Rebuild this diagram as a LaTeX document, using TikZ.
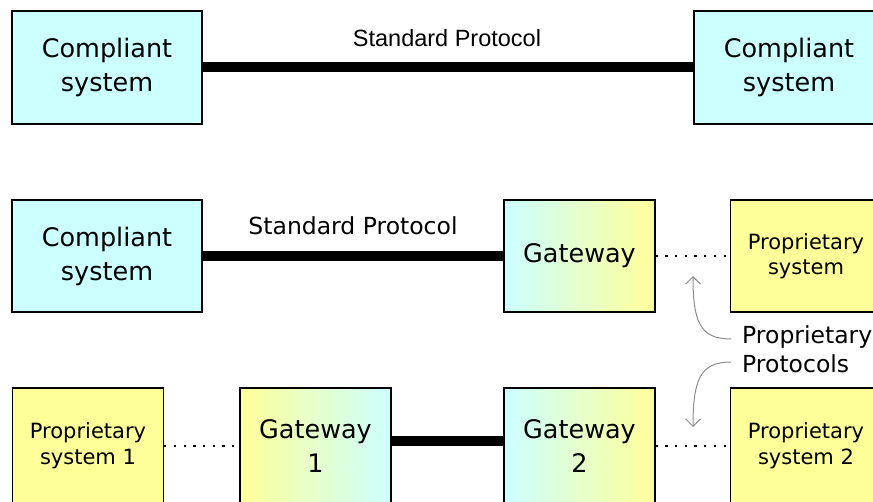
\documentclass[tikz,border=0pt]{standalone}
\usepackage{fontspec}
\setmainfont{DejaVu Sans}
\newfontfamily\arialfont{Liberation Sans}
\usetikzlibrary{arrows.meta}
\definecolor{compcyan}{HTML}{CCFFFF}
\definecolor{propyellow}{HTML}{FFFF99}
\definecolor{notegray}{HTML}{8C8C8C}

\begin{document}
\begin{tikzpicture}[x=1pt,y=-1pt,
  box/.style={draw=black,line width=1.3pt,inner sep=0pt,align=center,
    font=\fontsize{25.5}{34}\selectfont},
  compliant/.style={box,fill=compcyan,minimum width=190pt,minimum height=113pt},
  proprietary/.style={box,fill=propyellow,minimum width=151pt,
    font=\fontsize{21}{26}\selectfont},
  gwcy/.style={box,left color=compcyan,right color=propyellow,minimum width=151pt},
  gwyc/.style={box,left color=propyellow,right color=compcyan,minimum width=151pt},
  stdlink/.style={line width=10pt},
  proplink/.style={line width=2.3pt,dash pattern=on 2.3pt off 7.4pt},
  label/.style={inner sep=0pt,anchor=base,font=\fontsize{23.5}{29}\selectfont},
  note/.style={draw=notegray,line width=1pt,-{Straight Barb[length=7.5pt,width=15pt]}}
]
\useasboundingbox (0,0) rectangle (873,502);
\clip (0,0) rectangle (873,502);

% first row: two compliant systems talking directly
\node[compliant] (c1) at (107,67.5) {Compliant\\system};
\node[compliant] (c2) at (789,67.5) {Compliant\\system};
\draw[stdlink] (c1) -- (c2);
\node[label,font=\arialfont\fontsize{23.5}{29}\selectfont] (std1) at (447,46.5) {Standard Protocol};

% second row: compliant system reaching a proprietary one through a gateway
\node[compliant,minimum height=112pt] (c3) at (107,256) {Compliant\\system};
\node[gwcy,minimum height=112pt] (gw) at (579.5,256) {\raisebox{-3pt}{Gateway}};
\node[proprietary,minimum height=112pt,
  font=\fontsize{21}{25}\selectfont] (ps) at (806,256) {Proprietary\\system};
\draw[stdlink] (c3) -- (gw);
\draw[proplink] (gw.east) -- (ps.west);
\node[label] (std2) at (353,235) {Standard Protocol};

% third row: two proprietary systems joined by a pair of gateways
\node[proprietary,minimum height=116pt] (p1) at (88,446) {Proprietary\\system 1};
\node[gwyc,minimum height=116pt] (g1) at (315.5,446) {Gateway\\1};
\node[gwcy,minimum height=116pt] (g2) at (579.5,446) {Gateway\\2};
\node[proprietary,minimum height=116pt] (p2) at (806,446) {Proprietary\\system 2};
\draw[proplink] (p1.east) -- (g1.west);
\draw[stdlink] ([yshift=5pt]g1.east) -- ([yshift=5pt]g2.west);
\draw[proplink] (g2.east) -- (p2.west);

% callout for the proprietary links
\node[label,anchor=base west,align=left] (pp) at (742,373) {Proprietary\\Protocols};
\coordinate (nu) at (731,339);
\coordinate (nl) at (731,362);
\coordinate (tu) at (693,276);
\coordinate (tl) at (693,427);
\draw[note] (nu) .. controls (700,339) and (693,322) .. (tu);
\draw[note] (nl) .. controls (700,362) and (693,380) .. (tl);
\end{tikzpicture}
\end{document}
